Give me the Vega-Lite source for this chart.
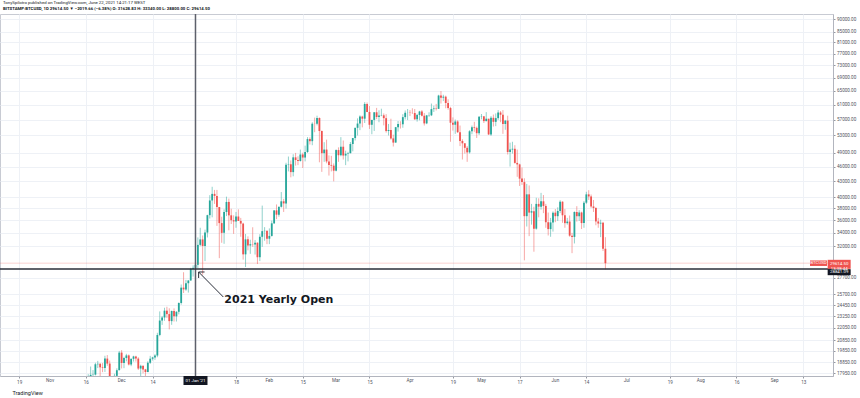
{
"$schema":"https://vega.github.io/schema/vega-lite/v6.json",
"width":833,"height":362,
"autosize":{"type":"none"},
"padding":{"left":0,"top":14,"right":27,"bottom":22},
"background":"white",
"title":{"text":"TonySpilotro published on TradingView.com, June 22, 2021 14:21:17 WEST","subtitle":"BITSTAMP:BTCUSD, 1D  29614.50 ▼ −2019.66 (−6.38%)  O: 31628.83  H: 33340.00  L: 28800.00  C: 29614.50","anchor":"start","frame":"group","offset":2,"dx":3,"font":"Roboto","subtitleFont":"Roboto","fontSize":4.3,"subtitleFontSize":4.3,"fontWeight":"normal","subtitleFontWeight":"bold","subtitlePadding":1.5,"color":"#131722","subtitleColor":"#131722"},
"config":{"view":{"stroke":"#c8cbd3","strokeWidth":1},"font":"Roboto","axis":{"labelOverlap":false}},
"datasets":{
"candles":[
{"date":"2020-11-13","open":16290,"high":16480,"low":15960,"close":16320},
{"date":"2020-11-14","open":16320,"high":16330,"low":15710,"close":16070},
{"date":"2020-11-15","open":16070,"high":16150,"low":15790,"close":15960},
{"date":"2020-11-16","open":15960,"high":16880,"low":15880,"close":16730},
{"date":"2020-11-17","open":16730,"high":17850,"low":16560,"close":17660},
{"date":"2020-11-18","open":17660,"high":18490,"low":17220,"close":17800},
{"date":"2020-11-19","open":17800,"high":18190,"low":17340,"close":17820},
{"date":"2020-11-20","open":17820,"high":18810,"low":17750,"close":18680},
{"date":"2020-11-21","open":18680,"high":18970,"low":18360,"close":18720},
{"date":"2020-11-22","open":18720,"high":18780,"low":17650,"close":18420},
{"date":"2020-11-23","open":18420,"high":18780,"low":18020,"close":18370},
{"date":"2020-11-24","open":18370,"high":19420,"low":18040,"close":19170},
{"date":"2020-11-25","open":19170,"high":19480,"low":18550,"close":18740},
{"date":"2020-11-26","open":18740,"high":19000,"low":16200,"close":17150},
{"date":"2020-11-27","open":17150,"high":17460,"low":16500,"close":17140},
{"date":"2020-11-28","open":17140,"high":17890,"low":16880,"close":17720},
{"date":"2020-11-29","open":17720,"high":18340,"low":17550,"close":18180},
{"date":"2020-11-30","open":18180,"high":19850,"low":18180,"close":19700},
{"date":"2020-12-01","open":19700,"high":19920,"low":18330,"close":18790},
{"date":"2020-12-02","open":18790,"high":19330,"low":18350,"close":19220},
{"date":"2020-12-03","open":19220,"high":19590,"low":18930,"close":19450},
{"date":"2020-12-04","open":19450,"high":19530,"low":18580,"close":18660},
{"date":"2020-12-05","open":18660,"high":19180,"low":18520,"close":19150},
{"date":"2020-12-06","open":19150,"high":19420,"low":18910,"close":19360},
{"date":"2020-12-07","open":19360,"high":19420,"low":18910,"close":19170},
{"date":"2020-12-08","open":19170,"high":19290,"low":18200,"close":18320},
{"date":"2020-12-09","open":18320,"high":18640,"low":17620,"close":18550},
{"date":"2020-12-10","open":18550,"high":18560,"low":17920,"close":18250},
{"date":"2020-12-11","open":18250,"high":18290,"low":17570,"close":18030},
{"date":"2020-12-12","open":18030,"high":18940,"low":18020,"close":18810},
{"date":"2020-12-13","open":18810,"high":19410,"low":18710,"close":19160},
{"date":"2020-12-14","open":19160,"high":19330,"low":19000,"close":19270},
{"date":"2020-12-15","open":19270,"high":19560,"low":19060,"close":19440},
{"date":"2020-12-16","open":19440,"high":21560,"low":19290,"close":21350},
{"date":"2020-12-17","open":21350,"high":23770,"low":21230,"close":22800},
{"date":"2020-12-18","open":22800,"high":23280,"low":22350,"close":23120},
{"date":"2020-12-19","open":23120,"high":24170,"low":22780,"close":23850},
{"date":"2020-12-20","open":23850,"high":24280,"low":23080,"close":23480},
{"date":"2020-12-21","open":23480,"high":24110,"low":21900,"close":22740},
{"date":"2020-12-22","open":22740,"high":23850,"low":22360,"close":23820},
{"date":"2020-12-23","open":23820,"high":24100,"low":22700,"close":23240},
{"date":"2020-12-24","open":23240,"high":23790,"low":22700,"close":23730},
{"date":"2020-12-25","open":23730,"high":24770,"low":23450,"close":24700},
{"date":"2020-12-26","open":24700,"high":26870,"low":24510,"close":26490},
{"date":"2020-12-27","open":26490,"high":28420,"low":25850,"close":26280},
{"date":"2020-12-28","open":26280,"high":27440,"low":26110,"close":27030},
{"date":"2020-12-29","open":27030,"high":27390,"low":25900,"close":27370},
{"date":"2020-12-30","open":27370,"high":28990,"low":27330,"close":28860},
{"date":"2020-12-31","open":28860,"high":29320,"low":27860,"close":28990},
{"date":"2021-01-01","open":28990,"high":29650,"low":28680,"close":29390},
{"date":"2021-01-02","open":29390,"high":33300,"low":28950,"close":32190},
{"date":"2021-01-03","open":32190,"high":34800,"low":32000,"close":33000},
{"date":"2021-01-04","open":33000,"high":33600,"low":28100,"close":32030},
{"date":"2021-01-05","open":32030,"high":34500,"low":29900,"close":34050},
{"date":"2021-01-06","open":34050,"high":36930,"low":33300,"close":36860},
{"date":"2021-01-07","open":36860,"high":40380,"low":36300,"close":39410},
{"date":"2021-01-08","open":39410,"high":41950,"low":36500,"close":40610},
{"date":"2021-01-09","open":40610,"high":41350,"low":38800,"close":40240},
{"date":"2021-01-10","open":40240,"high":41350,"low":35100,"close":38240},
{"date":"2021-01-11","open":38240,"high":38260,"low":30300,"close":35550},
{"date":"2021-01-12","open":35550,"high":36600,"low":32500,"close":34000},
{"date":"2021-01-13","open":34000,"high":37850,"low":32350,"close":37390},
{"date":"2021-01-14","open":37390,"high":40100,"low":36700,"close":39150},
{"date":"2021-01-15","open":39150,"high":39750,"low":34400,"close":36830},
{"date":"2021-01-16","open":36830,"high":37950,"low":35400,"close":36020},
{"date":"2021-01-17","open":36020,"high":36830,"low":33850,"close":35820},
{"date":"2021-01-18","open":35820,"high":37400,"low":34800,"close":36630},
{"date":"2021-01-19","open":36630,"high":37850,"low":35900,"close":35900},
{"date":"2021-01-20","open":35900,"high":36400,"low":33400,"close":35470},
{"date":"2021-01-21","open":35470,"high":35600,"low":30100,"close":30830},
{"date":"2021-01-22","open":30830,"high":33830,"low":29100,"close":33010},
{"date":"2021-01-23","open":33010,"high":33460,"low":31400,"close":32100},
{"date":"2021-01-24","open":32100,"high":32950,"low":30900,"close":32290},
{"date":"2021-01-25","open":32290,"high":34880,"low":31900,"close":32260},
{"date":"2021-01-26","open":32260,"high":32900,"low":30800,"close":32510},
{"date":"2021-01-27","open":32510,"high":32560,"low":29500,"close":30430},
{"date":"2021-01-28","open":30430,"high":33800,"low":29900,"close":33400},
{"date":"2021-01-29","open":33400,"high":38500,"low":31900,"close":34270},
{"date":"2021-01-30","open":34270,"high":34900,"low":32800,"close":34320},
{"date":"2021-01-31","open":34320,"high":34350,"low":32300,"close":33110},
{"date":"2021-02-01","open":33110,"high":34700,"low":32300,"close":33530},
{"date":"2021-02-02","open":33530,"high":35950,"low":33430,"close":35510},
{"date":"2021-02-03","open":35510,"high":37700,"low":35400,"close":37670},
{"date":"2021-02-04","open":37670,"high":38700,"low":36200,"close":36940},
{"date":"2021-02-05","open":36940,"high":38300,"low":36600,"close":38290},
{"date":"2021-02-06","open":38290,"high":40950,"low":38150,"close":39260},
{"date":"2021-02-07","open":39260,"high":39700,"low":37400,"close":38890},
{"date":"2021-02-08","open":38890,"high":46800,"low":37980,"close":46400},
{"date":"2021-02-09","open":46400,"high":48150,"low":45000,"close":46480},
{"date":"2021-02-10","open":46480,"high":47300,"low":43800,"close":44850},
{"date":"2021-02-11","open":44850,"high":48650,"low":44000,"close":47970},
{"date":"2021-02-12","open":47970,"high":48950,"low":46200,"close":47400},
{"date":"2021-02-13","open":47400,"high":48200,"low":46300,"close":47180},
{"date":"2021-02-14","open":47180,"high":49700,"low":47050,"close":48600},
{"date":"2021-02-15","open":48600,"high":49000,"low":45700,"close":47930},
{"date":"2021-02-16","open":47930,"high":50600,"low":47100,"close":49160},
{"date":"2021-02-17","open":49160,"high":52600,"low":48950,"close":52140},
{"date":"2021-02-18","open":52140,"high":52550,"low":50850,"close":51640},
{"date":"2021-02-19","open":51640,"high":56300,"low":50700,"close":55920},
{"date":"2021-02-20","open":55920,"high":57500,"low":53800,"close":55890},
{"date":"2021-02-21","open":55890,"high":58000,"low":55500,"close":57410},
{"date":"2021-02-22","open":57410,"high":57530,"low":46900,"close":54090},
{"date":"2021-02-23","open":54090,"high":54200,"low":44900,"close":48890},
{"date":"2021-02-24","open":48890,"high":51400,"low":47000,"close":49700},
{"date":"2021-02-25","open":49700,"high":52000,"low":46700,"close":47090},
{"date":"2021-02-26","open":47090,"high":48400,"low":44150,"close":46340},
{"date":"2021-02-27","open":46340,"high":48300,"low":45000,"close":46190},
{"date":"2021-02-28","open":46190,"high":46650,"low":43000,"close":45140},
{"date":"2021-03-01","open":45140,"high":49750,"low":45000,"close":49590},
{"date":"2021-03-02","open":49590,"high":50200,"low":47000,"close":48440},
{"date":"2021-03-03","open":48440,"high":52600,"low":48200,"close":50350},
{"date":"2021-03-04","open":50350,"high":51800,"low":47500,"close":48370},
{"date":"2021-03-05","open":48370,"high":49450,"low":46300,"close":48760},
{"date":"2021-03-06","open":48760,"high":49200,"low":47100,"close":48880},
{"date":"2021-03-07","open":48880,"high":51450,"low":48880,"close":50970},
{"date":"2021-03-08","open":50970,"high":52400,"low":49300,"close":52380},
{"date":"2021-03-09","open":52380,"high":54900,"low":51800,"close":54880},
{"date":"2021-03-10","open":54880,"high":57300,"low":53000,"close":55960},
{"date":"2021-03-11","open":55960,"high":58100,"low":54300,"close":57770},
{"date":"2021-03-12","open":57770,"high":58000,"low":55000,"close":57220},
{"date":"2021-03-13","open":57220,"high":61700,"low":56100,"close":61190},
{"date":"2021-03-14","open":61190,"high":61600,"low":58950,"close":59000},
{"date":"2021-03-15","open":59000,"high":60600,"low":54600,"close":55650},
{"date":"2021-03-16","open":55650,"high":56900,"low":53300,"close":56900},
{"date":"2021-03-17","open":56900,"high":58950,"low":54100,"close":58910},
{"date":"2021-03-18","open":58910,"high":60100,"low":57100,"close":57650},
{"date":"2021-03-19","open":57650,"high":59450,"low":56300,"close":58030},
{"date":"2021-03-20","open":58030,"high":59880,"low":57850,"close":58100},
{"date":"2021-03-21","open":58100,"high":58600,"low":55500,"close":57350},
{"date":"2021-03-22","open":57350,"high":58400,"low":53700,"close":54080},
{"date":"2021-03-23","open":54080,"high":55850,"low":53000,"close":54340},
{"date":"2021-03-24","open":54340,"high":57200,"low":52000,"close":52300},
{"date":"2021-03-25","open":52300,"high":53200,"low":50400,"close":51310},
{"date":"2021-03-26","open":51310,"high":55100,"low":51300,"close":55040},
{"date":"2021-03-27","open":55040,"high":56600,"low":53950,"close":55820},
{"date":"2021-03-28","open":55820,"high":56550,"low":54700,"close":55780},
{"date":"2021-03-29","open":55780,"high":58400,"low":54900,"close":57620},
{"date":"2021-03-30","open":57620,"high":59400,"low":57000,"close":58780},
{"date":"2021-03-31","open":58780,"high":59800,"low":56850,"close":58800},
{"date":"2021-04-01","open":58800,"high":59500,"low":57900,"close":58740},
{"date":"2021-04-02","open":58740,"high":60000,"low":58450,"close":58720},
{"date":"2021-04-03","open":58720,"high":59800,"low":56900,"close":57060},
{"date":"2021-04-04","open":57060,"high":58500,"low":56450,"close":58200},
{"date":"2021-04-05","open":58200,"high":59300,"low":56800,"close":59130},
{"date":"2021-04-06","open":59130,"high":59500,"low":57800,"close":57990},
{"date":"2021-04-07","open":57990,"high":58700,"low":55450,"close":56000},
{"date":"2021-04-08","open":56000,"high":58200,"low":55800,"close":58080},
{"date":"2021-04-09","open":58080,"high":58900,"low":57700,"close":58100},
{"date":"2021-04-10","open":58100,"high":61300,"low":57900,"close":59770},
{"date":"2021-04-11","open":59770,"high":60700,"low":59000,"close":59960},
{"date":"2021-04-12","open":59960,"high":61200,"low":59400,"close":59840},
{"date":"2021-04-13","open":59840,"high":63800,"low":59800,"close":63580},
{"date":"2021-04-14","open":63580,"high":64900,"low":61300,"close":62970},
{"date":"2021-04-15","open":62970,"high":63800,"low":62000,"close":63250},
{"date":"2021-04-16","open":63250,"high":63550,"low":60000,"close":61450},
{"date":"2021-04-17","open":61450,"high":62500,"low":59600,"close":60060},
{"date":"2021-04-18","open":60060,"high":60400,"low":51500,"close":56170},
{"date":"2021-04-19","open":56170,"high":57550,"low":54200,"close":55660},
{"date":"2021-04-20","open":55660,"high":57000,"low":53400,"close":56490},
{"date":"2021-04-21","open":56490,"high":56800,"low":53600,"close":53800},
{"date":"2021-04-22","open":53800,"high":55450,"low":50500,"close":51700},
{"date":"2021-04-23","open":51700,"high":52100,"low":47500,"close":51140},
{"date":"2021-04-24","open":51140,"high":51200,"low":48800,"close":50100},
{"date":"2021-04-25","open":50100,"high":50500,"low":47000,"close":49070},
{"date":"2021-04-26","open":49070,"high":54300,"low":48800,"close":54030},
{"date":"2021-04-27","open":54030,"high":55450,"low":53300,"close":55040},
{"date":"2021-04-28","open":55040,"high":56400,"low":53900,"close":54870},
{"date":"2021-04-29","open":54870,"high":55200,"low":52400,"close":53560},
{"date":"2021-04-30","open":53560,"high":57900,"low":53100,"close":57750},
{"date":"2021-05-01","open":57750,"high":58450,"low":57050,"close":57830},
{"date":"2021-05-02","open":57830,"high":57900,"low":56100,"close":56590},
{"date":"2021-05-03","open":56590,"high":58950,"low":56500,"close":57200},
{"date":"2021-05-04","open":57200,"high":57200,"low":53100,"close":53250},
{"date":"2021-05-05","open":53250,"high":57900,"low":52900,"close":57440},
{"date":"2021-05-06","open":57440,"high":58300,"low":55200,"close":56400},
{"date":"2021-05-07","open":56400,"high":58600,"low":55300,"close":57360},
{"date":"2021-05-08","open":57360,"high":59500,"low":56900,"close":58850},
{"date":"2021-05-09","open":58850,"high":59250,"low":56300,"close":58260},
{"date":"2021-05-10","open":58260,"high":59500,"low":53400,"close":55850},
{"date":"2021-05-11","open":55850,"high":56900,"low":54400,"close":56700},
{"date":"2021-05-12","open":56700,"high":58000,"low":48600,"close":49150},
{"date":"2021-05-13","open":49150,"high":51300,"low":46000,"close":49710},
{"date":"2021-05-14","open":49710,"high":51500,"low":48800,"close":49880},
{"date":"2021-05-15","open":49880,"high":50700,"low":46600,"close":46770},
{"date":"2021-05-16","open":46770,"high":49700,"low":43900,"close":46450},
{"date":"2021-05-17","open":46450,"high":46600,"low":42100,"close":43540},
{"date":"2021-05-18","open":43540,"high":45800,"low":42300,"close":42850},
{"date":"2021-05-19","open":42850,"high":43600,"low":30000,"close":36690},
{"date":"2021-05-20","open":36690,"high":42500,"low":35000,"close":40530},
{"date":"2021-05-21","open":40530,"high":42200,"low":33500,"close":37290},
{"date":"2021-05-22","open":37290,"high":38800,"low":35300,"close":37530},
{"date":"2021-05-23","open":37530,"high":38300,"low":31200,"close":34660},
{"date":"2021-05-24","open":34660,"high":39900,"low":34500,"close":38800},
{"date":"2021-05-25","open":38800,"high":39800,"low":36500,"close":38320},
{"date":"2021-05-26","open":38320,"high":40800,"low":37800,"close":39260},
{"date":"2021-05-27","open":39260,"high":40400,"low":37200,"close":38440},
{"date":"2021-05-28","open":38440,"high":38800,"low":34800,"close":35690},
{"date":"2021-05-29","open":35690,"high":37300,"low":33600,"close":34590},
{"date":"2021-05-30","open":34590,"high":36400,"low":33400,"close":35660},
{"date":"2021-05-31","open":35660,"high":37500,"low":34200,"close":37280},
{"date":"2021-06-01","open":37280,"high":37900,"low":35700,"close":36690},
{"date":"2021-06-02","open":36690,"high":38200,"low":35900,"close":37570},
{"date":"2021-06-03","open":37570,"high":39450,"low":37200,"close":39190},
{"date":"2021-06-04","open":39190,"high":39250,"low":35600,"close":36840},
{"date":"2021-06-05","open":36840,"high":37900,"low":34800,"close":35540},
{"date":"2021-06-06","open":35540,"high":36400,"low":35300,"close":35800},
{"date":"2021-06-07","open":35800,"high":36800,"low":33400,"close":33570},
{"date":"2021-06-08","open":33570,"high":34000,"low":31000,"close":33380},
{"date":"2021-06-09","open":33380,"high":37500,"low":32400,"close":37390},
{"date":"2021-06-10","open":37390,"high":38400,"low":35800,"close":36680},
{"date":"2021-06-11","open":36680,"high":37700,"low":35900,"close":37310},
{"date":"2021-06-12","open":37310,"high":37450,"low":34600,"close":35550},
{"date":"2021-06-13","open":35550,"high":39300,"low":34800,"close":39020},
{"date":"2021-06-14","open":39020,"high":41000,"low":38800,"close":40520},
{"date":"2021-06-15","open":40520,"high":41300,"low":39500,"close":40140},
{"date":"2021-06-16","open":40140,"high":40500,"low":38100,"close":38350},
{"date":"2021-06-17","open":38350,"high":39500,"low":37400,"close":38090},
{"date":"2021-06-18","open":38090,"high":38200,"low":35200,"close":35820},
{"date":"2021-06-19","open":35820,"high":36400,"low":34800,"close":35480},
{"date":"2021-06-20","open":35480,"high":36100,"low":33350,"close":35600},
{"date":"2021-06-21","open":35600,"high":35750,"low":31300,"close":31634},
{"date":"2021-06-22","open":31629,"high":33340,"low":28800,"close":29614.5}
],
"levels":[{"level":"last","price":29614.5},{"level":"open2021","price":28841.09}],
"markers":[{"date":"2021-01-01T00:00:00Z"}],
"months":[
{"date":"2020-11-01","text":"Nov"},{"date":"2020-12-01","text":"Dec"},{"date":"2021-02-01","text":"Feb"},{"date":"2021-03-01","text":"Mar"},{"date":"2021-04-01","text":"Apr"},{"date":"2021-05-01","text":"May"},{"date":"2021-06-01","text":"Jun"},{"date":"2021-07-01","text":"Jul"},{"date":"2021-08-01","text":"Aug"},{"date":"2021-09-01","text":"Sep"}
],
"arrow":[
{"date":"2021-01-12T16:19:00Z","price":25383,"date2":"2021-01-02T07:40:00Z","price2":28447},
{"date":"2021-01-02T07:40:00Z","price":28447,"date2":"2021-01-04T19:12:00Z","price2":28447},
{"date":"2021-01-02T07:40:00Z","price":28447,"date2":"2021-01-02T07:40:00Z","price2":27681}
],
"notes":[{"date":"2021-01-13T02:24:00Z","price":25042,"text":"2021 Yearly Open"}],
"tags":[
{"tag":"last","date":"2021-09-28T02:00:00Z","price":29462,"text":"29614.50\n13:38:44"},
{"tag":"open","date":"2021-09-28T02:00:00Z","price":28421,"text":"28841.09"},
{"tag":"symbol","date":"2021-09-19T10:00:00Z","price":29610,"text":"BTCUSD"},
{"tag":"time","date":"2021-01-01T00:00:00Z","price":17348,"text":"01 Jan '21"}
]
},
"layer":[
{"data":{"name":"candles"},
 "mark":{"type":"rule","strokeWidth":1,"opacity":0.5,"clip":true},
 "encoding":{
  "x":{"field":"date","type":"temporal","scale":{"type":"utc","domain":[1602553248000,1632389760000]},
   "axis":{"values":[1603065600000,1604188800000,1605484800000,1606780800000,1607904000000,1609459200000,1610928000000,1612137600000,1613347200000,1614556800000,1615766400000,1617235200000,1618790400000,1619827200000,1621209600000,1622505600000,1623628800000,1625097600000,1626652800000,1627776000000,1629072000000,1630454400000,1631491200000],
    "labelExpr":"utcdate(datum.value)==1 ? '' : '' + utcdate(datum.value)",
    "labelOverlap":false,"labelFontSize":4.6,"labelColor":"#50535e","labelPadding":1,"labelBaseline":"top",
    "tickSize":2,"tickColor":"#9598a1","domainColor":"#b2b5be","grid":true,"gridColor":"#eef1f6",
    "title":"TradingView","titleAnchor":"start","titleAlign":"left","titleX":12,"titleY":16,"titleBaseline":"middle","titleFontSize":5.5,"titleFontWeight":"normal","titleColor":"#131722"}},
  "y":{"field":"low","type":"quantitative","scale":{"type":"log","domain":[17708,92200],"nice":false,"zero":false},
   "axis":{"orient":"right","values":[90000,85000,81000,77000,73000,69000,65000,61000,57000,53000,49000,46000,43000,40000,38000,36000,34000,32000,27700,25700,24450,23250,22050,20850,19850,18850,17950],
    "labelExpr":"format(datum.value,'.2f')","labelOverlap":false,"labelFontSize":4.6,"labelColor":"#50535e","labelPadding":1.5,
    "tickSize":2,"tickColor":"#9598a1","domainColor":"#b2b5be","grid":true,"gridColor":"#eef1f6","title":null}},
  "y2":{"field":"high"},
  "color":{"condition":{"test":"datum.close >= datum.open","value":"#26a69a"},"value":"#ef5350"}
 }},
{"data":{"name":"candles"},
 "mark":{"type":"bar","size":1.8,"clip":true},
 "encoding":{
  "x":{"field":"date","type":"temporal"},
  "y":{"field":"open","type":"quantitative"},
  "y2":{"field":"close"},
  "color":{"condition":{"test":"datum.close >= datum.open","value":"#26a69a"},"value":"#ef5350"}
 }},
{"data":{"name":"levels"},"transform":[{"filter":"datum.level=='last'"}],
 "mark":{"type":"rule","color":"#ef5350","opacity":0.25,"strokeWidth":1},
 "encoding":{"y":{"field":"price","type":"quantitative"}}},
{"data":{"name":"markers"},
 "mark":{"type":"rule","color":"#5d606b","strokeWidth":1.5},
 "encoding":{"x":{"field":"date","type":"temporal"}}},
{"data":{"name":"levels"},"transform":[{"filter":"datum.level=='open2021'"}],
 "mark":{"type":"rule","color":"#2a2e39","strokeWidth":1.3},
 "encoding":{"y":{"field":"price","type":"quantitative"}}},
{"data":{"name":"arrow"},
 "mark":{"type":"rule","color":"#2a2e39","strokeWidth":1},
 "encoding":{"x":{"field":"date","type":"temporal"},"x2":{"field":"date2"},"y":{"field":"price","type":"quantitative"},"y2":{"field":"price2"}}},
{"data":{"name":"notes"},
 "mark":{"type":"text","font":"DejaVu Sans","fontWeight":"bold","fontSize":11,"align":"left","baseline":"middle","color":"#131722"},
 "encoding":{"x":{"field":"date","type":"temporal"},"y":{"field":"price","type":"quantitative"},"text":{"field":"text"}}},
{"data":{"name":"months"},
 "mark":{"type":"text","fontSize":4.6,"align":"center","baseline":"middle","color":"#50535e","clip":false},
 "encoding":{"x":{"field":"date","type":"temporal"},"y":{"datum":17310},"text":{"field":"text"}}},
{"data":{"name":"tags"},"transform":[{"filter":"datum.tag=='last'"}],
 "mark":{"type":"point","shape":"M-1,-0.391H1V0.391H-1Z","size":529,"filled":true,"opacity":1,"color":"#ef5350","clip":false},
 "encoding":{"x":{"field":"date","type":"temporal"},"y":{"field":"price","type":"quantitative"}}},
{"data":{"name":"tags"},"transform":[{"filter":"datum.tag=='open'"}],
 "mark":{"type":"point","shape":"M-1,-0.26H1V0.26H-1Z","size":529,"filled":true,"opacity":1,"color":"#131722","clip":false},
 "encoding":{"x":{"field":"date","type":"temporal"},"y":{"field":"price","type":"quantitative"}}},
{"data":{"name":"tags"},"transform":[{"filter":"datum.tag=='symbol'"}],
 "mark":{"type":"point","shape":"M-1,-0.3235H1V0.3235H-1Z","size":289,"filled":true,"opacity":1,"color":"#ef5350","clip":false},
 "encoding":{"x":{"field":"date","type":"temporal"},"y":{"field":"price","type":"quantitative"}}},
{"data":{"name":"tags"},"transform":[{"filter":"datum.tag=='time'"}],
 "mark":{"type":"point","shape":"M-1,-0.375H1V0.375H-1Z","size":576,"filled":true,"opacity":1,"color":"#131722","clip":false},
 "encoding":{"x":{"field":"date","type":"temporal"},"y":{"field":"price","type":"quantitative"}}},
{"data":{"name":"tags"},
 "mark":{"type":"text","color":"white","fontSize":4.4,"align":"center","baseline":"middle","lineBreak":"\n","lineHeight":4.3,"clip":false},
 "encoding":{"x":{"field":"date","type":"temporal"},"y":{"field":"price","type":"quantitative"},"text":{"field":"text"}}}
]
}
